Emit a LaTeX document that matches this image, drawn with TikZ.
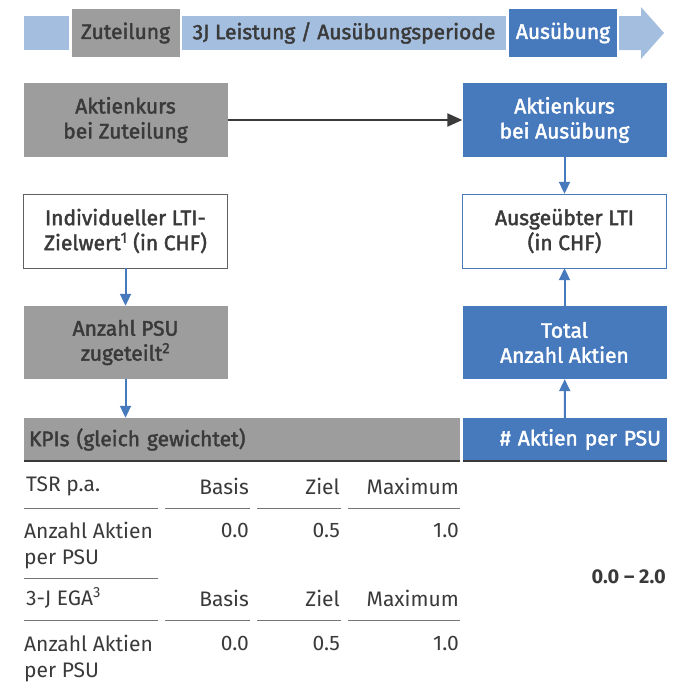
\documentclass[tikz,border=0pt]{standalone}
\usepackage{fontspec}
\setmainfont{Fira Sans}
\newfontfamily\medfont{Fira Sans}[FakeBold=2]
\usetikzlibrary{arrows.meta,positioning}
\definecolor{kgray}{HTML}{9C9D9C}
\definecolor{kblue}{HTML}{4779BD}
\definecolor{klight}{HTML}{A4BEDF}
\definecolor{ktext}{HTML}{3A3A3A}

\begin{document}
\begin{tikzpicture}[x=1pt,y=-1pt]
\tikzset{box/.style={minimum width=204pt,minimum height=74pt,inner sep=0pt,align=center,font=\fontsize{21}{25}\medfont}}
\tikzset{graybox/.style={box,fill=kgray,text=ktext},bluebox/.style={box,fill=kblue,text=white}}
\tikzset{phase/.style={minimum height=48pt,inner sep=0pt,font=\fontsize{21}{24}\medfont}}
\tikzset{flow/.style={kblue,line width=2pt,-{Triangle[length=12pt,width=11pt]}}}
\tikzset{cell/.style={inner sep=0pt,text=ktext,font=\fontsize{21}{26}\selectfont},sep/.style={draw=ktext!70,line width=1pt}}
\useasboundingbox (0,0) rectangle (675,686);

% phases
\fill[klight] (24,16) rectangle (69,50);
\node[phase,fill=kgray,text=ktext,minimum width=108pt] (zut) at (125.5,33) {Zuteilung};
\node[phase,fill=klight,text=ktext,minimum width=324pt,minimum height=34pt] (leist) at (344,33) {3J Leistung / Ausübungsperiode};
\node[phase,fill=kblue,text=white,minimum width=108pt] (ausp) at (563,33) {Ausübung};
\fill[klight] (619,16) -- (641,16) -- (641,7) -- (664,33) -- (641,59) -- (641,50) -- (619,50) -- cycle;

% boxes
\node[graybox] (akz) at (125.5,120) {Aktienkurs\\bei Zuteilung};
\node[bluebox] (aka) at (564.5,120) {Aktienkurs\\bei Ausübung};
\node[box,draw=ktext!80,text=ktext] (ind) at (125.5,231) {Individueller LTI-\\Zielwert\textsuperscript{1} (in CHF)};
\node[box,draw=kblue,text=ktext] (aus) at (564.5,231) {Ausgeübter LTI\\(in CHF)};
\node[graybox,minimum height=73pt] (psu) at (125.5,342.5) {Anzahl PSU\\zugeteilt\textsuperscript{2}};
\node[bluebox,minimum height=73pt] (tot) at (564.5,342.5) {Total\\Anzahl Aktien};
\node[graybox,minimum width=436pt,minimum height=43pt,text width=426pt,align=left] (kpi) at (242,439.5) {KPIs (gleich gewichtet)};
\node[bluebox,minimum width=204pt,minimum height=43pt,text width=192pt,align=right,text=white] (apu) at (565,439.5) {\# Aktien per PSU};
\draw[ktext,line width=2pt] (kpi.south west) -- (kpi.south east);
\draw[ktext,line width=2pt] (apu.south west) -- (apu.south east);

\draw[ktext,line width=2.2pt,-{Triangle[length=15pt,width=13pt]}] (akz) -- (aka);
\draw[flow] (aka) -- (aus);
\draw[flow] (ind) -- (psu);
\draw[flow] (psu.south) -- (kpi.north -| psu.south);
\draw[flow] (tot) -- (aus);
\draw[flow] (apu) -- (tot);

% table
\foreach \y/\lab in {486/TSR p.a., 598/{3-J EGA\textsuperscript{3}}} {
  \node[cell,anchor=west] (lab\y) at (26,\y) {\lab};
  \node[cell,anchor=east] (bas\y) at (249,\y) {Basis};
  \node[cell,anchor=east] (zie\y) at (340,\y) {Ziel};
  \node[cell,anchor=east] (max\y) at (459,\y) {Maximum};
  \draw[sep] (24,\y+22) -- (158,\y+22);
  \draw[sep] (165,\y+22) -- (250,\y+22);
  \draw[sep] (257,\y+22) -- (341,\y+22);
  \draw[sep] (348,\y+22) -- (460,\y+22);
}
\foreach \y in {530,643} {
  \node[cell,anchor=north west,align=left] (anz\y) at (24,\y-8) {Anzahl Aktien\\per PSU};
  \node[cell,anchor=east] (v0\y) at (249,\y) {0.0};
  \node[cell,anchor=east] (v1\y) at (340,\y) {0.5};
  \node[cell,anchor=east] (v2\y) at (459,\y) {1.0};
}
\draw[sep] (24,578) -- (158,578);
\node[cell,anchor=east,font=\fontsize{20}{22}\selectfont\bfseries] (rng) at (666,577) {0.0 – 2.0};

\end{tikzpicture}
\end{document}
